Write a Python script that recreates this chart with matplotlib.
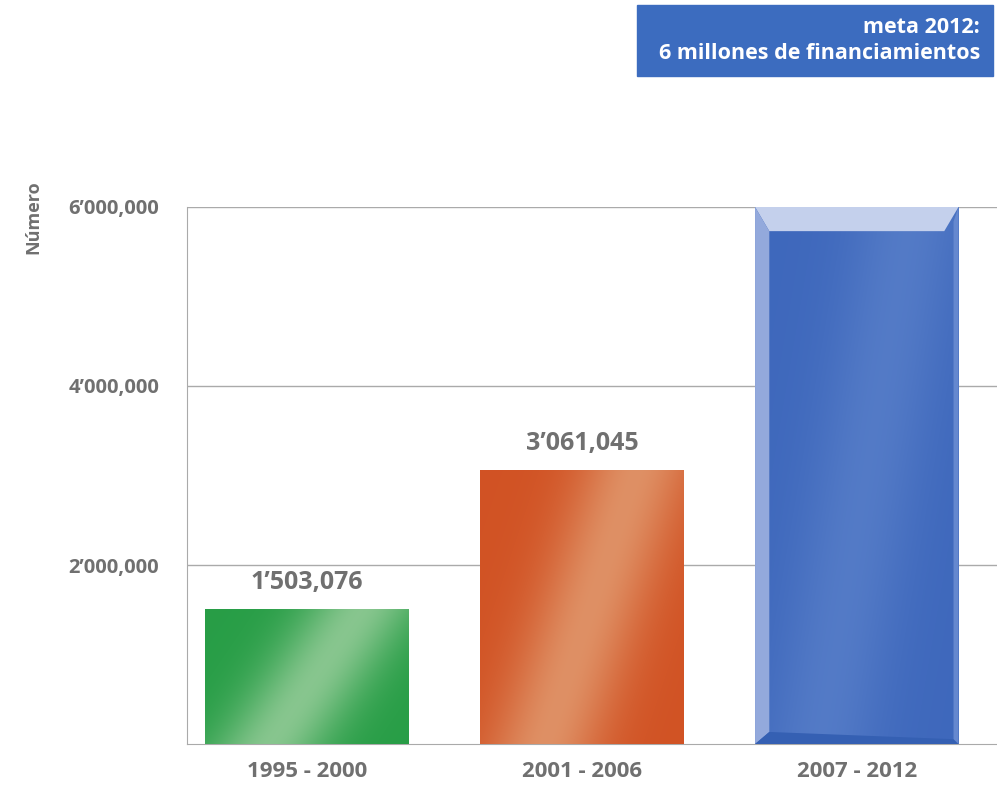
import matplotlib
matplotlib.use('Agg')
import matplotlib.pyplot as plt
import numpy as np
from matplotlib.colors import to_rgb
from matplotlib.patches import Polygon, Rectangle

# Data
periods = ['1995 - 2000', '2001 - 2006', '2007 - 2012']
values = [1503076, 3061045, 6000000]
value_labels = ['1\u2019503,076', '3\u2019061,045', None]
yticks = [2000000, 4000000, 6000000]
ytick_labels = ['2\u2019000,000', '4\u2019000,000', '6\u2019000,000']

plt.rcParams['font.family'] = ['Open Sans', 'DejaVu Sans']

bar_colors = [('#1f9a40', '#8fc994'), ('#d04d1e', '#e0956a'), ('#3c66bb', '#5e84cc')]
grey = '#707070'


def gradient_fill(ax, bar, dark, light, strength=0.85):
    x0, y0 = bar.get_x(), bar.get_y()
    w, h = bar.get_width(), bar.get_height()
    gx, gy = np.meshgrid(np.linspace(0, 1, 200), np.linspace(0, 1, 200))
    # soft diagonal highlight, lower-left to upper-right
    t = np.exp(-((gx - gy * 0.45 - 0.32) / 0.28) ** 2) * strength
    t = np.clip(t + 0.08, 0, 1)
    d, l = np.array(to_rgb(dark)), np.array(to_rgb(light))
    img = d[None, None, :] * (1 - t[..., None]) + l[None, None, :] * t[..., None]
    im = ax.imshow(img, extent=(x0, x0 + w, y0, y0 + h), origin='lower',
                   aspect='auto', zorder=3, interpolation='bilinear')
    im.set_clip_path(bar)


fig = plt.figure(figsize=(9.97, 7.9), dpi=100)
ax = fig.add_axes([0.1876, 0.0582, 1 - 0.1876, 0.738 - 0.0582])

x = np.arange(len(periods))
bars = ax.bar(x, values, width=0.74, color=[c[0] for c in bar_colors],
              zorder=2, linewidth=0)

for bar, (dark, light) in zip(bars, bar_colors):
    gradient_fill(ax, bar, dark, light, 0.85 if light != '#5e84cc' else 0.6)

# bevel on the blue bar
b = bars[2]
x0, w, h = b.get_x(), b.get_width(), b.get_height()
bx = w * 0.07
by = h * 0.045
ax.add_patch(Polygon([(x0, h), (x0 + w, h), (x0 + w - bx, h - by), (x0 + bx, h - by)],
                     closed=True, color='#c4d0ec', zorder=4, lw=0))
ax.add_patch(Polygon([(x0, 0), (x0, h), (x0 + bx, h - by), (x0 + bx, by * 0.5)],
                     closed=True, color='#93a9dc', zorder=4, lw=0))
ax.add_patch(Polygon([(x0 + w, 0), (x0 + w, h), (x0 + w - bx * 0.35, h - by * 0.6), (x0 + w - bx * 0.35, 0)],
                     closed=True, color='#6588cf', zorder=4, lw=0))
ax.add_patch(Polygon([(x0, 0), (x0 + w, 0), (x0 + w - bx * 0.35, by * 0.2), (x0 + bx, by * 0.5)],
                     closed=True, color='#3560b3', zorder=4, lw=0))

for bar, lab in zip(bars, value_labels):
    if lab:
        ax.text(bar.get_x() + bar.get_width() / 2, bar.get_height() + 160000, lab,
                ha='center', va='bottom', fontsize=18, fontweight='bold', color=grey)

ax.set_xlim(-0.436, 2.51)
ax.set_ylim(0, 6000000)
ax.set_yticks(yticks)
ax.set_yticklabels(ytick_labels, fontsize=14.5, fontweight='bold', color=grey)
ax.set_xticks(x)
ax.set_xticklabels(periods, fontsize=16, fontweight='bold', color=grey)
ax.tick_params(axis='x', length=0, pad=12)
ax.tick_params(axis='y', length=0, pad=20)
ax.yaxis.grid(True, color='#aaaaaa', linewidth=1, zorder=0)
ax.set_axisbelow(True)
for s in ['top', 'right']:
    ax.spines[s].set_visible(False)
ax.spines['left'].set_color('#aaaaaa')
ax.spines['bottom'].set_color('#aaaaaa')

fig.text(0.033, 0.725, 'Número', rotation=90, ha='center', va='center',
         fontsize=13, fontweight='bold', color=grey)

# goal box
fig.patches.append(Rectangle((0.639, 0.904), 0.357, 0.09,
                             transform=fig.transFigure, color='#3c6cbf', zorder=0))
fig.text(0.983, 0.949, 'meta 2012:\n6 millones de financiamientos', ha='right',
         va='center', fontsize=15.5, fontweight='bold', color='white',
         linespacing=1.3, multialignment='right')

fig.savefig('out.png', dpi=100)
